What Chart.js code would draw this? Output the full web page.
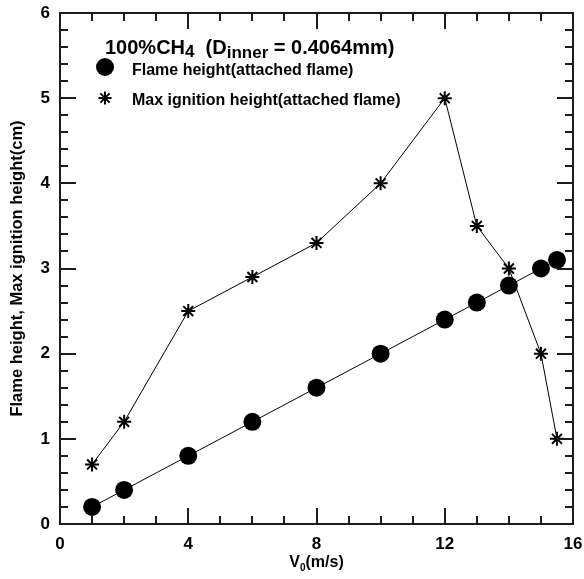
<!DOCTYPE html>
<html>
<head>
<meta charset="utf-8">
<script src="https://cdn.jsdelivr.net/npm/chart.js@4.4.1/dist/chart.umd.min.js"></script>
<style>
  html, body { margin: 0; padding: 0; background: #fff; }
  #wrap { width: 584px; height: 579px; }
</style>
</head>
<body>
<div id="wrap"><canvas id="c" width="584" height="579"></canvas></div>
<script>
// Jet exit velocity V0 (m/s)
const velocity = [1, 2, 4, 6, 8, 10, 12, 13, 14, 15, 15.5];
// Flame height (cm), attached flame
const flameHeight = [0.2, 0.4, 0.8, 1.2, 1.6, 2.0, 2.4, 2.6, 2.8, 3.0, 3.1];
// Max ignition height (cm), attached flame
const ignitionHeight = [0.7, 1.2, 2.5, 2.9, 3.3, 4.0, 5.0, 3.5, 3.0, 2.0, 1.0];

// Labelled (major) ticks
const xTicks = [0, 4, 8, 12, 16];
const yTicks = [0, 1, 2, 3, 4, 5, 6];
// Minor tick spacing
const xMinorStep = 1;
const yMinorStep = 0.2;

const FONT = '"Liberation Sans", Arial, Helvetica, sans-serif';
const INK = '#1c1c1c';

const toPoints = (xs, ys) => xs.map((x, i) => ({ x: x, y: ys[i] }));

// Boxed frame around the plot area
const framePlugin = {
  id: 'boxFrame',
  afterDraw(chart) {
    const ctx = chart.ctx;
    const a = chart.chartArea;
    ctx.save();
    ctx.strokeStyle = INK;
    ctx.lineWidth = 2;
    ctx.strokeRect(a.left, a.top, a.right - a.left, a.bottom - a.top);
    ctx.restore();
  }
};

// Inward major/minor tick marks on all four sides, one small bar each
const tickPlugin = {
  id: 'inwardTicks',
  afterDraw(chart) {
    const ctx = chart.ctx;
    const a = chart.chartArea;
    const xs = chart.scales.x, ys = chart.scales.y;
    ctx.save();
    ctx.fillStyle = INK;
    const nx = Math.round((xs.max - xs.min) / xMinorStep);
    for (let i = 0; i <= nx; i++) {
      const v = xs.min + i * xMinorStep;
      const px = Math.round(xs.getPixelForValue(v));
      const len = xTicks.includes(v) ? 16 : 8;
      ctx.fillRect(px - 1, a.bottom - len, 2, len);
      ctx.fillRect(px - 1, a.top, 2, len);
    }
    const ny = Math.round((ys.max - ys.min) / yMinorStep);
    for (let i = 0; i <= ny; i++) {
      const v = ys.min + i * yMinorStep;
      const py = Math.round(ys.getPixelForValue(v));
      const len = (i % 5 === 0) ? 16 : 8;
      ctx.fillRect(a.left, py - 1, len, 2);
      ctx.fillRect(a.right - len, py - 1, len, 2);
    }
    ctx.restore();
  }
};

// Legend block inside the plot and the two axis titles
const labelPlugin = {
  id: 'labels',
  afterDraw(chart) {
    const ctx = chart.ctx;
    const a = chart.chartArea;
    ctx.save();
    ctx.fillStyle = '#000';
    ctx.strokeStyle = '#000';
    ctx.textBaseline = 'alphabetic';
    ctx.textAlign = 'left';

    // 100%CH4 (Dinner = 0.4064mm)
    const base = 54;
    let x = 105;
    const run = (txt, size, dy) => {
      ctx.font = 'bold ' + size + 'px ' + FONT;
      ctx.fillText(txt, x, base + dy);
      x += ctx.measureText(txt).width;
    };
    run('100%CH', 20, 0);
    run('4', 17, 3);
    run('  (D', 20, 0);
    run('inner', 17, 4);
    run(' = 0.4064mm)', 20, 0);

    // Legend entries
    Chart.helpers.drawPoint(ctx, { pointStyle: 'circle', radius: 9, rotation: 0, borderWidth: 0 }, 105, 67);
    ctx.lineWidth = 2;
    Chart.helpers.drawPoint(ctx, { pointStyle: 'star', radius: 6.5, rotation: 0, borderWidth: 2 }, 105, 98);
    ctx.font = 'bold 16px ' + FONT;
    ctx.fillText('Flame height(attached flame)', 132, 75);
    ctx.fillText('Max ignition height(attached flame)', 132, 105);

    // V0(m/s)
    const xc = (a.left + a.right) / 2;
    ctx.font = 'bold 16px ' + FONT;
    const wV = ctx.measureText('V').width;
    const wR = ctx.measureText('(m/s)').width;
    ctx.font = 'bold 10px ' + FONT;
    const w0 = ctx.measureText('0').width;
    let tx = xc - (wV + w0 + wR) / 2;
    ctx.font = 'bold 16px ' + FONT;
    ctx.fillText('V', tx, 567); tx += wV;
    ctx.font = 'bold 10px ' + FONT;
    ctx.fillText('0', tx, 571); tx += w0;
    ctx.font = 'bold 16px ' + FONT;
    ctx.fillText('(m/s)', tx, 567);

    // Vertical axis title
    ctx.translate(22, (a.top + a.bottom) / 2);
    ctx.rotate(-Math.PI / 2);
    ctx.textAlign = 'center';
    ctx.font = 'bold 16.5px ' + FONT;
    ctx.fillText('Flame height, Max ignition height(cm)', 0, 0);
    ctx.restore();
  }
};

new Chart(document.getElementById('c'), {
  type: 'scatter',
  data: {
    datasets: [
      {
        label: 'Flame height(attached flame)',
        data: toPoints(velocity, flameHeight),
        showLine: true,
        borderColor: '#000',
        backgroundColor: '#000',
        borderWidth: 1,
        pointStyle: 'circle',
        pointRadius: 9,
        pointBorderWidth: 0,
        pointBackgroundColor: '#000',
        pointBorderColor: '#000'
      },
      {
        label: 'Max ignition height(attached flame)',
        data: toPoints(velocity, ignitionHeight),
        showLine: true,
        borderColor: '#000',
        backgroundColor: '#000',
        borderWidth: 1,
        pointStyle: 'star',
        pointRadius: 7,
        pointBorderWidth: 2,
        pointBorderColor: '#000'
      }
    ]
  },
  options: {
    responsive: false,
    animation: false,
    events: [],
    layout: { padding: { top: 13, right: 11, left: 0, bottom: 0 } },
    plugins: { legend: { display: false }, tooltip: { enabled: false }, title: { display: false } },
    scales: {
      x: {
        type: 'linear',
        min: 0, max: 16,
        afterFit: s => { s.height = 55; s.paddingLeft = 0; s.paddingRight = 0; },
        afterBuildTicks: s => { s.ticks = xTicks.map(v => ({ value: v })); },
        grid: { display: false, drawTicks: false },
        border: { display: false },
        ticks: { color: '#000', padding: 10, maxRotation: 0, font: { family: FONT, size: 17, weight: 'bold' } }
      },
      y: {
        type: 'linear',
        min: 0, max: 6,
        afterFit: s => { s.width = 60; s.paddingTop = 0; s.paddingBottom = 0; },
        afterBuildTicks: s => { s.ticks = yTicks.map(v => ({ value: v })); },
        grid: { display: false, drawTicks: false },
        border: { display: false },
        ticks: { color: '#000', padding: 10, font: { family: FONT, size: 17, weight: 'bold' } }
      }
    }
  },
  plugins: [framePlugin, tickPlugin, labelPlugin]
});
</script>
</body>
</html>
